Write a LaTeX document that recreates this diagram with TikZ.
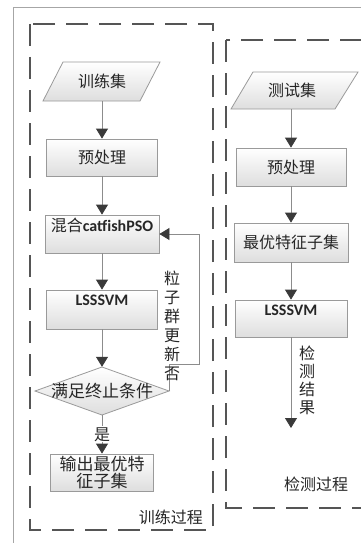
\documentclass[tikz,border=0pt]{standalone}
\usepackage{fontspec}
\newfontfamily\cjk{Noto Sans CJK SC}
\newfontfamily\lat{Carlito}
\usetikzlibrary{arrows.meta}
\definecolor{dashcol}{HTML}{555555}
\definecolor{linecol}{HTML}{8C8C8C}
\definecolor{tipcol}{HTML}{3A3A3A}
\definecolor{boxcol}{HTML}{9A9A9A}
\tikzset{
  boxfill/.style={draw=boxcol, line width=0.8pt, top color=white, bottom color=black!13},
  proc/.style={boxfill, inner sep=0pt, font=\cjk\fontsize{16}{18}\selectfont, text=black!85},
  blank/.style={inner sep=0pt, font=\cjk\fontsize{16}{18}\selectfont, text=black!85},
  txt/.style={inner sep=0pt, font=\cjk\fontsize{16}{18}\selectfont, text=black!85},
  conn/.style={draw=linecol, line width=0.8pt, -{Triangle[width=12pt,length=10pt,color=tipcol]}},
  plainline/.style={draw=linecol, line width=0.8pt},
  region/.style={draw=dashcol, line width=2pt, dash pattern=on 22pt off 11pt},
}
\begin{document}
\begin{tikzpicture}[x=1pt,y=-1pt]
\useasboundingbox (0,0) rectangle (361,543);
\clip (0,0) rectangle (361,543);
\fill[white] (0,0) rectangle (361,543);
% outer frame
\draw[draw=black!35, line width=0.8pt] (13,7) rectangle (420,600);
% regions
\draw[region] (30,24) rectangle (213,530);
\draw[region] (226,40) rectangle (420,508);
\node[txt, anchor=east] (trainlbl) at (203,517) {训练过程};
\node[txt] (testlbl) at (316,484) {检测过程};

% ---------- training column ----------
\draw[boxfill] (63,62) -- (160,62) -- (140,101) -- (43,101) -- cycle;
\node[blank, minimum width=97pt, minimum height=39pt] (trainset) at (102,81.5) {训练集};
\node[proc, minimum width=111pt, minimum height=37pt] (pre1) at (102,157.5) {预处理};
\node[proc, minimum width=114pt, minimum height=38pt] (pso) at (102,234) {};
\node[txt] (psotext) at (102,225) {混合{\lat\bfseries catfishPSO}};
\node[proc, minimum width=111pt, minimum height=39pt] (ls1) at (102,309.5) {};
\node[txt, font=\lat\bfseries\fontsize{16}{18}\selectfont] (ls1text) at (102,300) {LSSSVM};
\draw[boxfill] (102,367) -- (169,391) -- (102,415) -- (35,391) -- cycle;
\node[blank, minimum width=134pt, minimum height=48pt, font=\cjk\fontsize{17}{19}\selectfont] (dia) at (102,391) {满足终止条件};
\node[proc, minimum width=103pt, minimum height=37pt, align=center, font=\cjk\fontsize{17}{17}\selectfont] (out) at (102,472.5) {输出最优特\\征子集};

\draw[conn] (trainset) -- (pre1);
\draw[conn] (pre1) -- (pso);
\draw[conn] (pso) -- (ls1);
\draw[conn] (ls1) -- (dia);
\draw[conn] (dia) -- (out) node[pos=0.5, txt, fill=white, inner sep=1pt] (yes) {是};
\draw[conn] (dia.east) |- (199,364) |- (pso.east);
\node[txt, align=center, font=\cjk\fontsize{16}{19}\selectfont] (upd) at (172,325.5) {粒\\子\\群\\更\\新\\否};

% ---------- test column ----------
\draw[boxfill] (253,72) -- (358,72) -- (335,109) -- (231,109) -- cycle;
\node[blank, minimum width=100pt, minimum height=37pt] (testset) at (292,90.5) {测试集};
\node[proc, minimum width=110pt, minimum height=38pt] (pre2) at (291,167) {预处理};
\node[proc, minimum width=114pt, minimum height=39pt] (best) at (291,242.5) {最优特征子集};
\node[proc, minimum width=112pt, minimum height=37pt] (ls2) at (291,318.5) {};
\node[txt, font=\lat\bfseries\fontsize{16}{18}\selectfont] (ls2text) at (291,310) {LSSSVM};
\coordinate (res) at (291,428);
\node[txt, align=center, font=\cjk\fontsize{16}{18}\selectfont] (detres) at (307,380) {检\\测\\结\\果};

\draw[conn] (testset.south -| pre2.north) -- (pre2);
\draw[conn] (pre2) -- (best);
\draw[conn] (best) -- (ls2);
\draw[conn] (ls2) -- (res);
\end{tikzpicture}
\end{document}
